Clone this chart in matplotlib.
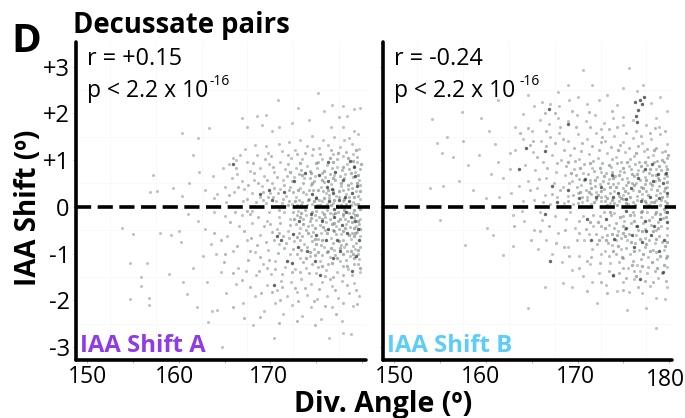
"""Decussate pairs: IAA shift against divergence angle, two panels."""
import numpy as np
import matplotlib
matplotlib.use("Agg")
import matplotlib.pyplot as plt
from matplotlib.transforms import ScaledTranslation

W, H = 685, 418
FONT = "Open Sans"

X_TICKS = [150, 155, 160, 165, 170, 175, 180]
Y_TICKS = [3, 2, 1, 0, -1, -2, -3]
Y_LABELS = ["+3", "+2", "+1", "0", "-1", "-2", "-3"]
GRID_X = [152.5, 157.5, 162.5, 167.5, 172.5, 177.5]
GRID_Y = [2.5, 1.5, 0.5, -0.5, -1.5, -2.5]

# puntos leídos a ojo de la figura (ángulo, shift)
shift_a_light = [
    (175.2,2.44),(170.8,2.29),(179.8,2.12),(176.7,2.18),(173.0,2.12),(166.9,1.90),(168.5,1.95),(169.5,1.97),
    (167.4,1.71),(169.1,1.76),(163.3,1.69),(160.4,1.58),(162.1,1.48),(161.6,1.11),(157.2,0.69),(156.9,0.32),
    (157.6,0.33),(159.4,0.41),(162.9,0.36),(165.9,1.05),(166.2,1.01),(178.0,2.15),(179.2,2.10),(175.9,2.05),
    (177.5,1.92),(178.4,1.95),(174.2,1.87),(172.4,1.80),(171.0,1.70),(170.2,1.62),(176.6,1.72),(177.9,1.70),
    (179.1,1.62),(179.6,1.55),(178.6,1.48),(177.0,1.50),(175.8,1.44),(174.6,1.52),(173.2,1.43),(172.0,1.39),
    (170.9,1.34),(169.5,1.30),(168.3,1.33),(167.2,1.24),(166.7,1.12),(165.5,0.92),(164.8,0.83),(163.7,0.66),
    (162.2,0.74),(161.1,0.52),(160.3,0.24),(163.8,0.18),(165.1,0.42),(164.2,0.28),(166.4,0.71),(167.5,0.95),
    (168.6,1.10),(169.8,1.16),(171.3,1.20),(172.7,1.22),(174.0,1.30),(175.3,1.26),(176.3,1.33),(177.6,1.28),
    (178.9,1.34),(179.7,1.24),(179.0,1.13),(177.9,1.08),(176.9,1.14),(175.7,1.03),(174.6,1.10),(173.5,1.02),
    (172.3,1.04),(171.1,0.97),(169.9,0.92),(168.9,0.84),(167.8,0.77),(166.9,0.55),(165.8,0.62),(166.0,0.32),
    (167.1,0.38),(168.2,0.58),(169.3,0.66),(170.4,0.74),(171.6,0.80),(172.8,0.84),(174.0,0.88),(175.1,0.83),
    (176.2,0.90),(177.3,0.86),(178.4,0.92),(179.5,0.95),(179.3,0.74),(178.2,0.70),(177.0,0.68),(176.0,0.63),
    (174.9,0.66),(173.7,0.61),(172.6,0.64),(171.4,0.58),(170.2,0.52),(169.1,0.44),(168.0,0.29),(167.0,0.12),
    (165.2,0.10),(168.9,0.20),(170.0,0.30),(171.1,0.38),(172.2,0.43),(173.3,0.40),(174.4,0.46),(175.5,0.42),
    (176.6,0.48),(177.7,0.44),(178.8,0.52),(179.7,0.58),(179.4,0.33),(178.3,0.28),(177.2,0.24),(176.1,0.30),
    (175.0,0.22),(173.9,0.27),(172.8,0.20),(171.7,0.24),(170.6,0.13),(169.5,0.09),(171.3,0.08),(172.4,0.06),
    (173.5,0.10),(174.6,0.07),(175.7,0.12),(176.8,0.09),(177.9,0.13),(179.0,0.11),(179.8,0.16),(168.0,-0.09),
    (153.8,-0.45),(155.0,-0.58),(154.7,-1.20),(156.5,-1.20),(155.9,-1.50),(155.9,-1.70),(154.7,-1.97),(156.7,-2.10),
    (156.7,-1.95),(158.9,-1.44),(158.0,-0.55),(159.2,-0.60),(160.0,-0.52),(160.2,-0.75),(160.5,-1.60),(160.9,-1.86),
    (162.0,-2.15),(163.2,-2.46),(163.6,-2.23),(164.2,-2.20),(168.1,-2.53),(170.4,-2.80),(176.4,-2.80),(178.0,-2.70),
    (178.8,-2.72),(164.7,-3.00),(161.0,-0.15),(162.1,-0.30),(162.9,-0.48),(163.5,-0.80),(164.1,-1.02),(162.6,-1.05),
    (161.5,-1.30),(163.1,-1.60),(164.6,-1.40),(165.3,-0.62),(165.9,-0.95),(166.5,-1.30),(165.2,-1.85),(166.2,-1.65),
    (167.0,-2.05),(168.3,-1.90),(169.3,-2.22),(170.5,-2.05),(171.4,-2.30),(172.4,-2.10),(173.5,-2.33),(174.4,-2.15),
    (175.5,-2.40),(176.7,-2.15),(177.8,-2.45),(179.0,-2.12),(179.7,-1.90),(178.6,-1.85),(177.4,-1.95),(176.2,-1.90),
    (175.1,-1.98),(174.0,-1.88),(172.9,-1.82),(171.8,-1.92),(170.7,-1.78),(169.6,-1.68),(168.4,-1.45),(167.3,-1.38),
    (166.6,-0.40),(167.4,-0.72),(168.3,-0.96),(169.2,-1.22),(170.1,-1.44),(171.2,-1.58),(172.3,-1.62),(173.4,-1.55),
    (174.5,-1.66),(175.6,-1.60),(176.7,-1.70),(177.8,-1.58),(179.1,-1.64),(179.8,-1.40),(178.5,-1.33),(177.3,-1.40),
    (176.1,-1.36),(175.0,-1.42),(173.9,-1.30),(172.7,-1.34),(171.6,-1.28),(170.5,-1.16),(169.8,-0.92),(168.9,-0.60),
    (168.0,-0.35),(169.6,-0.30),(170.7,-0.48),(171.0,-0.80),(172.1,-1.02),(173.2,-1.10),(174.3,-1.06),(175.4,-1.15),
    (176.5,-1.08),(177.6,-1.16),(178.7,-1.05),(179.7,-1.12),(179.3,-0.90),(178.1,-0.86),(177.0,-0.92),(175.9,-0.85),
    (174.8,-0.90),(173.7,-0.80),(172.6,-0.74),(171.9,-0.52),(170.9,-0.22),(172.2,-0.25),(173.3,-0.45),(174.4,-0.62),
    (175.5,-0.55),(176.6,-0.66),(177.7,-0.58),(178.8,-0.68),(179.8,-0.62),(179.4,-0.40),(178.3,-0.36),(177.2,-0.42),
    (176.1,-0.33),(175.0,-0.28),(173.9,-0.18),(175.6,-0.12),(176.8,-0.16),(177.9,-0.20),(179.0,-0.14),(179.8,-0.25),
    (174.6,-0.38),(173.0,-0.08),(171.5,-0.10),(169.9,-0.12),(166.9,-0.18),(165.0,-0.20),(163.9,-0.12),(178.1,1.44),
]
shift_a_core = [
    (177.3,1.03),(175.2,0.97),(173.4,0.79),(171.9,0.91),(170.3,0.85),(168.2,0.72),(166.3,0.84),(169.4,1.03),
    (172.9,1.13),(174.7,1.24),(176.6,1.22),(178.3,1.18),(179.5,1.07),(179.1,0.87),(177.8,0.79),(176.7,0.83),
    (175.6,0.72),(174.3,0.77),(173.1,0.71),(171.8,0.67),(170.7,0.63),(169.6,0.57),(168.7,0.51),(167.6,0.46),
    (166.5,0.43),(165.5,0.26),(167.5,0.17),(168.4,0.11),(169.2,0.31),(170.4,0.41),(171.5,0.47),(172.4,0.55),
    (173.6,0.51),(174.8,0.56),(175.9,0.53),(177.1,0.57),(178.1,0.61),(179.0,0.63),(179.8,0.47),(178.9,0.41),
    (177.9,0.36),(176.9,0.37),(175.8,0.33),(174.7,0.36),(173.6,0.31),(172.5,0.31),(171.4,0.17),(170.3,0.22),
    (169.2,0.14),(172.0,0.13),(173.1,0.15),(174.2,0.17),(175.3,0.14),(176.4,0.19),(177.5,0.21),(178.6,0.20),
    (179.6,0.24),(179.3,0.06),(178.3,0.07),(177.3,0.05),(176.2,0.06),(175.1,0.05),(174.0,0.04),(172.9,0.05),
    (174.3,0.62),(176.5,0.71),(178.6,0.81),(175.4,1.13),(173.8,1.16),(171.9,1.11),(170.1,1.08),(168.1,0.93),
    (179.8,0.80),(177.6,0.65),(178.5,0.38),(176.4,0.26),(174.2,0.37),(172.0,0.35),(170.8,0.30),(169.7,0.21),
    (167.8,-0.16),(168.7,-0.22),(169.3,-0.41),(170.2,-0.53),(170.4,-0.70),(169.5,-0.76),(168.6,-0.82),(167.8,-0.95),
    (168.9,-1.08),(169.9,-1.13),(170.8,-0.98),(171.5,-0.88),(171.4,-0.63),(172.1,-0.39),(171.1,-0.34),(172.9,-0.17),
    (173.6,-0.27),(174.3,-0.31),(174.9,-0.17),(175.4,-0.39),(176.0,-0.22),(176.5,-0.27),(177.4,-0.31),(178.2,-0.27),
    (178.7,-0.44),(179.5,-0.53),(179.7,-0.37),(179.2,-0.24),(178.6,-0.13),(177.4,-0.10),(176.2,-0.07),(175.0,-0.09),
    (173.8,-0.07),(172.5,-0.11),(171.0,-0.07),(173.1,-0.55),(173.9,-0.49),(174.7,-0.53),(175.2,-0.68),(176.0,-0.50),
    (176.8,-0.50),(177.5,-0.47),(178.0,-0.72),(178.9,-0.57),(179.4,-0.78),(179.8,-0.86),(179.0,-0.83),(178.4,-0.94),
    (177.7,-0.81),(176.9,-0.78),(176.3,-0.94),(175.5,-0.82),(174.6,-0.74),(174.0,-0.87),(173.2,-0.72),(172.5,-0.91),
    (171.7,-0.77),(172.9,-1.00),(173.6,-1.18),(174.6,-1.23),(175.7,-1.03),(176.3,-1.22),(177.1,-1.04),(177.9,-1.27),
    (178.3,-1.14),(179.1,-1.23),(179.6,-1.00),(178.9,-1.47),(177.9,-1.45),(176.9,-1.50),(176.0,-1.48),(175.2,-1.28),
    (174.2,-1.42),(173.3,-1.40),(172.4,-1.40),(171.3,-1.44),(170.5,-1.33),(169.6,-1.30),(168.8,-1.38),(167.6,-1.14),
    (166.4,-0.83),(165.1,-1.02),(167.1,-0.52),(167.9,-0.67),(170.0,-0.37),(170.9,-0.57),(172.0,-0.66),(172.8,-0.37),
    (173.5,-0.62),(177.2,-0.59),(178.5,-0.30),(179.3,-0.17),(176.5,-0.13),(175.3,-0.21),(174.1,-0.41),(179.6,-1.22),
    (170.2,-1.82),(171.3,-1.72),(172.7,-1.74),(173.8,-1.73),(175.3,-1.75),(176.5,-1.55),(177.1,-1.78),(178.4,-1.68),
    (179.4,-1.78),(178.0,-2.05),(176.0,-2.12),(174.8,-2.02),(173.0,-2.02),(171.1,-1.99),(169.0,-1.85),(167.8,-1.72),
    (166.9,-1.56),(165.9,-1.41),(164.9,-1.18),(163.8,-0.55),(164.6,-0.70),(165.6,-0.33),(167.4,-0.08),(166.1,-0.11),
    (179.5,-2.08),(177.2,-2.30),(174.9,-2.52),(172.9,-2.44),(170.9,-2.49),(168.9,-2.35),(167.1,-2.38),(165.9,-2.15),
]
# franja densa junto a 180 en el panel A
shift_a_edge = [
    (179.9,0.91),(179.4,1.21),(178.5,1.05),(177.4,1.16),(176.5,1.05),(175.9,0.77),(175.0,0.93),(174.5,0.72),
    (173.3,0.93),(172.2,0.74),(176.9,0.95),(178.0,0.86),(179.0,0.98),(179.6,0.69),(178.8,0.72),(177.7,0.52),
    (176.8,0.62),(175.7,0.57),(174.6,0.51),(173.5,0.68),(179.5,0.52),(178.5,0.46),(177.5,0.33),(176.3,0.36),
    (175.2,0.36),(174.1,0.14),(173.0,0.35),(171.9,0.05),(179.8,0.33),(179.1,0.21),(178.1,0.17),(177.0,0.14),
    (175.9,0.18),(174.8,0.13),(172.7,0.12),(178.8,0.04),(177.7,0.04),(176.6,0.04),(175.4,0.03),(173.4,0.04),
    (179.6,0.06),(179.8,-0.05),(179.1,-0.06),(178.1,-0.06),(177.1,-0.13),(175.9,-0.16),(174.6,-0.10),(173.4,-0.14),
    (179.5,-0.17),(178.9,-0.33),(178.0,-0.16),(177.0,-0.35),(175.8,-0.44),(174.9,-0.45),(173.6,-0.36),(172.6,-0.27),
    (179.6,-0.30),(179.2,-0.45),(178.6,-0.60),(177.9,-0.52),(177.0,-0.52),(176.2,-0.57),(175.7,-0.72),(174.9,-0.68),
    (174.1,-0.56),(172.9,-0.64),(179.8,-0.48),(179.1,-0.62),(178.3,-0.80),(177.5,-0.74),(176.6,-0.88),(175.2,-0.96),
    (174.3,-0.96),(173.4,-0.93),(179.6,-0.92),(178.8,-0.94),(178.0,-1.02),(177.3,-1.10),(176.7,-1.20),(175.7,-1.27),
    (174.9,-1.04),(173.9,-1.10),(179.2,-1.10),(178.4,-1.26),(179.8,-1.30),(179.0,-1.00),(177.6,-0.88),(176.2,-0.96),
    (175.0,-0.80),(179.3,-0.57),(178.2,-0.46),(177.6,-0.25),(176.7,-0.37),(175.6,-0.25),(174.4,-0.24),(173.2,-0.22),
]
shift_a_dark = [
    (176.7,0.38),(176.9,0.30),(176.2,0.42),(177.1,0.75),(176.3,0.95),(178.7,0.98),(178.0,0.58),(179.3,0.65),
    (179.5,0.45),(178.2,0.22),(175.0,0.18),(173.8,0.72),(176.3,0.55),(177.5,0.15),(178.9,0.30),(169.9,0.35),
    (165.9,0.92),(170.2,0.15),(174.4,-0.15),(175.6,-0.30),(176.3,-0.48),(177.0,-0.22),(177.8,-0.38),(178.4,-0.55),
    (179.3,-0.30),(179.7,-0.72),(178.8,-0.22),(177.3,-0.70),(176.1,-0.72),(175.0,-0.60),(174.0,-0.95),(172.5,-0.58),
    (173.1,-0.30),(171.2,-0.70),(170.7,-0.62),(172.4,-1.20),(175.4,-1.45),(178.9,-1.38),(179.4,-1.05),(177.6,-0.95),
    (170.4,-1.68),(171.8,-1.15),(173.0,-0.85),(174.9,-1.15),(176.9,-1.10),(177.0,-0.05),(178.3,-0.10),(179.6,-0.48),
    (178.6,0.12),(176.4,0.12),(175.3,0.68),(172.6,0.55),(168.9,0.28),(171.5,0.32),(174.6,0.28),(179.2,0.85),
]
shift_b_light = [
    (170.6,2.93),(175.6,2.97),(176.5,2.47),(177.1,2.60),(175.0,2.55),(167.9,2.46),(168.9,2.60),(171.6,2.60),
    (164.6,2.40),(161.3,2.29),(154.1,1.88),(157.4,2.03),(155.7,1.50),(154.7,1.37),(155.2,1.15),(156.4,1.07),
    (157.5,1.42),(153.9,0.41),(155.3,0.45),(159.5,1.90),(160.3,1.62),(161.0,1.35),(159.2,1.10),(158.0,0.90),
    (157.1,0.55),(158.6,0.35),(160.5,0.70),(161.3,0.95),(161.9,0.62),(162.6,1.15),(163.2,1.72),(164.0,1.98),
    (165.2,2.15),(166.1,2.25),(167.0,2.20),(168.0,2.15),(169.1,2.28),(170.0,2.36),(171.0,2.20),(172.3,2.28),
    (173.2,2.40),(174.3,2.18),(178.0,2.22),(179.0,2.35),(179.7,2.05),(178.5,1.90),(177.5,1.75),(176.0,1.85),
    (175.0,1.75),(173.9,1.90),(172.9,1.80),(171.9,1.96),(170.9,1.84),(169.9,1.96),(168.9,1.84),(167.9,1.90),
    (166.9,1.78),(165.9,1.85),(165.0,1.62),(164.0,1.45),(163.2,1.22),(162.6,0.80),(163.6,0.45),(162.7,0.30),
    (161.4,0.22),(160.0,0.18),(164.3,0.90),(165.1,1.18),(166.0,1.42),(167.0,1.50),(168.0,1.58),(169.0,1.40),
    (170.0,1.55),(171.0,1.45),(172.0,1.58),(173.0,1.42),(174.0,1.52),(175.0,1.38),(176.0,1.48),(177.0,1.36),
    (178.0,1.45),(179.0,1.55),(179.8,1.35),(179.2,1.18),(178.2,1.10),(177.2,1.20),(176.2,1.08),(175.2,1.18),
    (174.2,1.06),(173.2,1.16),(172.2,1.05),(171.2,1.14),(170.2,1.02),(169.2,1.12),(168.2,1.00),(167.2,1.10),
    (166.2,0.95),(165.4,0.78),(164.6,0.55),(165.6,0.40),(166.6,0.62),(167.6,0.74),(168.6,0.68),(169.6,0.82),
    (170.6,0.72),(171.6,0.84),(172.6,0.74),(173.6,0.86),(174.6,0.76),(175.6,0.88),(176.6,0.78),(177.6,0.90),
    (178.6,0.80),(179.6,0.88),(179.4,0.62),(178.4,0.55),(177.4,0.64),(176.4,0.52),(175.4,0.62),(174.4,0.50),
    (173.4,0.60),(172.4,0.48),(171.4,0.58),(170.4,0.46),(169.4,0.55),(168.4,0.42),(167.4,0.50),(166.4,0.26),
    (165.2,0.15),(164.0,0.12),(167.8,0.22),(168.9,0.24),(170.0,0.30),(171.0,0.22),(172.0,0.32),(173.0,0.24),
    (174.0,0.34),(175.0,0.26),(176.0,0.36),(177.0,0.28),(178.0,0.38),(179.0,0.30),(179.8,0.42),(179.5,0.12),
    (178.5,0.15),(177.5,0.08),(176.5,0.14),(175.5,0.07),(174.5,0.13),(173.5,0.08),(172.5,0.12),(171.5,0.06),
    (170.5,0.10),(169.5,0.07),(168.5,0.09),(167.0,0.06),(174.9,1.92),(176.4,1.62),(178.9,1.72),(172.5,1.66),
    (155.0,-0.28),(160.1,-0.45),(160.8,-0.60),(157.7,-0.81),(161.9,-1.03),(162.9,-0.84),(164.6,-2.17),(166.4,-1.71),
    (168.4,-1.63),(169.4,-1.72),(172.1,-2.06),(175.4,-2.20),(177.5,-2.16),(178.5,-2.60),(163.0,-0.18),(164.2,-0.30),
    (165.2,-0.50),(166.1,-0.28),(166.6,-0.72),(167.2,-1.02),(165.7,-0.90),(167.9,-0.55),(168.3,-1.18),(169.0,-0.85),
    (169.4,-1.35),(170.2,-1.05),(170.6,-1.48),(171.4,-1.22),(171.6,-1.62),(172.3,-1.42),(173.1,-1.68),(173.9,-1.48),
    (174.3,-1.80),(175.0,-1.60),(175.6,-1.83),(176.2,-1.55),(177.0,-1.85),(177.9,-1.70),(178.6,-1.95),(179.5,-1.98),
    (179.8,-1.72),(178.8,-1.52),(177.6,-1.42),(176.5,-1.25),(175.5,-1.32),(174.5,-1.18),(173.5,-1.20),(172.6,-1.02),
    (171.6,-0.90),(170.7,-0.72),(169.7,-0.45),(168.7,-0.25),(170.6,-0.20),(171.7,-0.42),(172.7,-0.65),(173.7,-0.82),
    (174.7,-0.90),(175.7,-1.02),(176.7,-0.92),(177.7,-1.08),(178.7,-1.12),(179.7,-1.28),(179.4,-0.92),(178.4,-0.78),
    (177.4,-0.66),(176.4,-0.60),(175.4,-0.72),(174.4,-0.52),(173.4,-0.38),(172.4,-0.20),(174.0,-0.14),(175.1,-0.30),
    (176.1,-0.18),(177.1,-0.34),(178.1,-0.22),(179.1,-0.40),(179.8,-0.60),(178.6,-0.50),(177.6,-0.12),(179.5,-0.10),
    (176.8,-1.38),(175.0,-1.10),(173.0,-0.95),(171.2,-0.58),(169.2,-0.12),(167.5,-0.20),(165.9,-0.10),(163.9,-0.08),
]
shift_b_core = [
    (163.7,1.58),(164.8,1.32),(165.6,1.07),(166.6,1.30),(167.5,1.36),(168.5,1.22),(169.6,1.27),(170.5,1.36),
    (171.6,1.30),(172.5,1.38),(173.6,1.28),(174.6,1.33),(175.6,1.25),(176.6,1.30),(177.6,1.24),(178.5,1.27),
    (179.5,1.20),(179.7,1.04),(178.7,0.99),(177.7,1.07),(176.7,0.97),(175.7,1.03),(174.7,0.96),(173.7,1.02),
    (172.7,0.93),(171.7,0.99),(170.7,0.91),(169.7,0.98),(168.7,0.88),(167.7,0.94),(166.7,0.84),(165.8,0.60),
    (164.8,0.36),(166.2,0.10),(167.2,0.28),(168.1,0.35),(169.1,0.50),(170.1,0.60),(171.1,0.70),(172.1,0.64),
    (173.1,0.72),(174.1,0.65),(175.1,0.74),(176.1,0.66),(177.1,0.76),(178.1,0.69),(179.1,0.78),(179.8,0.66),
    (178.9,0.44),(177.9,0.51),(176.9,0.43),(175.9,0.52),(174.9,0.41),(173.9,0.48),(172.9,0.38),(171.9,0.45),
    (170.9,0.36),(169.9,0.42),(168.9,0.13),(170.0,0.08),(171.0,0.14),(172.0,0.16),(173.0,0.13),(174.0,0.08),
    (175.0,0.16),(176.0,0.10),(177.0,0.17),(178.0,0.10),(179.1,0.15),(179.7,0.23),(178.5,0.26),(177.5,0.34),
    (176.5,0.24),(175.5,0.30),(174.5,0.24),(173.5,0.30),(172.5,0.22),(171.5,0.28),(170.5,0.20),(169.5,0.26),
    (172.8,0.55),(174.8,0.59),(176.8,0.58),(178.8,0.62),(177.3,0.48),(175.3,0.46),(173.3,0.52),(171.3,0.50),
    (174.3,0.94),(176.3,0.92),(178.3,0.96),(177.8,0.72),(175.8,0.80),(173.8,0.74),(171.8,0.76),(169.8,0.68),
    (179.4,0.34),(179.4,0.96),(172.3,1.22),(170.4,1.20),(168.4,1.46),(166.5,1.62),(165.1,1.40),(164.6,1.68),
    (166.4,2.02),(168.1,1.72),(169.8,1.72),(171.4,1.70),(173.4,1.66),(175.3,1.58),(177.9,1.58),(179.5,1.62),
    (173.7,2.05),(171.2,2.04),(169.4,2.05),(167.5,2.02),(178.4,1.68),(176.9,1.52),(174.3,1.70),(172.7,1.50),
    (163.1,-0.40),(164.9,-0.72),(165.9,-0.52),(166.9,-0.42),(167.6,-0.78),(168.6,-0.50),(169.1,-1.05),(169.9,-0.72),
    (170.1,-0.30),(170.9,-0.48),(171.5,-1.08),(172.1,-0.80),(172.5,-0.42),(173.2,-0.60),(173.6,-0.18),(174.2,-0.34),
    (174.7,-0.66),(175.2,-0.48),(175.8,-0.34),(176.4,-0.40),(176.9,-0.22),(177.3,-0.48),(178.0,-0.38),(178.4,-0.16),
    (178.9,-0.62),(179.3,-0.24),(179.7,-0.46),(179.2,-0.75),(178.2,-0.92),(177.3,-0.86),(176.3,-0.78),(175.3,-0.88),
    (174.2,-0.72),(173.3,-0.78),(172.4,-1.20),(173.4,-1.06),(174.2,-1.02),(175.0,-1.30),(176.0,-1.16),(176.9,-1.12),
    (177.7,-1.28),(178.5,-0.96),(179.6,-1.10),(179.2,-1.42),(178.4,-1.38),(177.4,-1.58),(176.1,-1.38),(175.3,-1.52),
    (174.5,-1.42),(173.4,-1.38),(172.6,-1.60),(171.0,-1.15),(170.2,-1.30),(179.6,-1.58),(178.2,-1.62),(176.6,-1.72),
    (174.9,-1.78),(173.2,-1.85),(171.0,-1.80),(177.0,-0.08),(176.0,-0.12),(175.0,-0.20),(172.9,-0.12),(171.7,-0.18),
    (178.8,-0.32),(177.8,-0.70),(176.6,-0.50),(175.6,-0.58),(174.0,-0.45),(172.0,-0.58),(170.2,-0.55),(168.5,-0.85),
]
# zona densa del panel B
shift_b_edge = [
    (179.9,1.12),(179.2,1.01),(178.3,1.21),(177.4,0.97),(176.4,1.16),(175.4,0.95),(174.4,1.22),(173.4,0.90),
    (172.4,0.83),(171.4,0.93),(170.3,0.83),(168.9,0.96),(179.7,0.80),(178.9,0.87),(177.9,0.81),(176.9,0.88),
    (175.9,0.71),(174.9,0.84),(173.9,0.62),(172.9,0.66),(171.9,0.57),(170.7,0.57),(169.3,0.72),(179.5,0.70),
    (178.5,0.68),(177.5,0.57),(176.5,0.70),(175.5,0.53),(174.5,0.68),(173.5,0.43),(172.5,0.34),(171.5,0.40),
    (170.3,0.31),(179.8,0.53),(178.9,0.57),(178.1,0.47),(177.1,0.40),(176.2,0.47),(175.2,0.34),(174.2,0.42),
    (173.2,0.18),(172.2,0.26),(171.2,0.31),(179.5,0.40),(178.7,0.36),(177.7,0.25),(176.7,0.34),(175.7,0.20),
    (174.7,0.19),(173.7,0.14),(171.8,0.11),(179.2,0.22),(178.3,0.11),(177.3,0.13),(176.3,0.05),(175.3,0.09),
    (174.3,0.05),(179.8,0.08),(179.0,0.05),(177.8,0.04),(173.2,0.04),(179.4,-0.05),(178.6,-0.10),(177.8,-0.28),
    (176.9,-0.12),(175.7,-0.18),(174.6,-0.22),(173.5,-0.10),(172.2,-0.32),(179.0,-0.15),(178.2,-0.52),(177.0,-0.52),
    (176.1,-0.30),(175.0,-0.40),(174.3,-0.60),(173.0,-0.45),(171.4,-0.32),(179.6,-0.22),(178.8,-0.46),(177.5,-0.80),
    (176.8,-0.68),(175.8,-0.76),(174.9,-0.55),(173.8,-0.58),(172.3,-0.72),(179.8,-0.76),(178.6,-0.68),(177.9,-0.94),
    (177.1,-1.00),(176.1,-0.94),(175.2,-0.62),(174.4,-0.83),(173.1,-0.70),(179.5,-0.84),(179.0,-1.05),(178.1,-1.18),
    (177.0,-1.26),(175.9,-1.25),(174.8,-1.08),(173.9,-0.95),(179.8,-1.05),(179.4,-1.25),(178.7,-1.30),(176.4,-1.48),
]
shift_b_dark = [
    (176.8,2.28),(177.0,2.20),(176.3,2.25),(176.6,2.08),(176.4,1.95),(176.5,1.82),(177.2,2.35),
    (166.9,2.10),(168.9,1.78),(164.4,1.25),(166.4,1.20),(163.6,0.80),(167.2,0.45),(169.0,0.35),(170.8,0.60),
    (172.6,0.42),(173.7,0.68),(174.4,0.30),(175.8,0.40),(176.6,0.62),(177.4,0.80),(178.2,0.55),(178.8,0.70),
    (179.3,0.50),(179.7,0.30),(178.9,0.18),(177.9,0.22),(176.9,0.12),(175.3,0.16),(173.9,0.20),(179.6,0.72),
    (178.1,0.92),(172.0,0.20),(170.2,0.18),(167.8,0.10),
    (179.7,-0.10),(179.0,-0.25),(178.3,-0.40),(177.4,-0.30),(176.5,-0.42),(175.9,-0.60),(177.0,-0.75),(178.0,-0.60),
    (179.4,-0.70),(179.7,-0.32),(178.9,-0.95),(176.2,-0.85),(175.3,-0.45),(174.0,-0.68),(173.1,-0.25),(171.5,-0.70),
    (171.0,-0.25),(166.4,-0.15),(167.0,-1.15),(173.9,-1.45),(176.8,-1.55),(179.3,-1.40),(175.3,-0.08),(177.5,-0.52),
]

# corrimiento de las etiquetas del eje x respecto de su tick (px)
LABEL_SHIFT_A = [0, 0, -4, 0, -2, 0, 0]
LABEL_SHIFT_B = [0, 0, -5, 0, -2, 0, -4]


def px_x(px):
    return px / W


def px_y(py):
    return 1 - py / H


def draw_panel(fig, left, right, tick150, per_deg, light, core, edge, dark):
    ax = fig.add_axes([px_x(left), px_y(360), (right - left) / W, 318 / H])
    ax.set_xlim(150 + (left - tick150) / per_deg, 150 + (right - tick150) / per_deg)
    ax.set_ylim(-3.28, 3.53)

    for g in GRID_X:
        ax.axvline(g, color="#f8f8f8", lw=0.6, zorder=0)
    for g in GRID_Y:
        ax.axhline(g, color="#f8f8f8", lw=0.6, zorder=0)

    for pts, size, col, alpha, z in [(light, 5, "#2c3d38", 0.3, 2), (core, 5, "#2c3d38", 0.35, 2),
                                     (edge, 6, "#2c3d38", 0.4, 2), (dark, 6, "#0f1715", 0.65, 3)]:
        pts = np.array(pts)
        ax.scatter(pts[:, 0], pts[:, 1], s=size, color=col, alpha=alpha, linewidths=0, zorder=z)

    ax.plot([ax.get_xlim()[0], ax.get_xlim()[1] + 0.4], [0, 0], color="black", lw=2.6,
            dashes=(4.2, 1.8), clip_on=False, zorder=4)

    for side in ["top", "right"]:
        ax.spines[side].set_visible(False)
    for side in ["left", "bottom"]:
        ax.spines[side].set_linewidth(2.6)
        ax.spines[side].set_capstyle("round")
    ax.set_xticks(X_TICKS)
    ax.set_yticks(Y_TICKS)
    ax.tick_params(length=2.5, width=0.5, color="#999999")
    return ax


def shift_labels(ax, shifts, last_dy=0):
    for i, (lab, dx) in enumerate(zip(ax.get_xticklabels(), shifts)):
        dy = last_dy if i == len(shifts) - 1 else 0
        lab.set_transform(lab.get_transform() + ScaledTranslation(dx / 100, dy / 100, ax.figure.dpi_scale_trans))


fig = plt.figure(figsize=(W / 100, H / 100), dpi=100)

ax_a = draw_panel(fig, 76, 366, 87.3, 9.15, shift_a_light, shift_a_core, shift_a_edge, shift_a_dark)
ax_b = draw_panel(fig, 382.7, 672, 394.3, 9.167, shift_b_light, shift_b_core, shift_b_edge, shift_b_dark)

ax_a.set_yticklabels(Y_LABELS, fontsize=17, family=FONT)
ax_a.set_xticklabels(["150", "", "160", "", "170", "", ""], fontsize=16.5, family=FONT)
ax_a.tick_params(axis="x", pad=1)
ax_a.tick_params(axis="y", pad=2)
ax_b.set_yticklabels([])
ax_b.set_xticklabels(["150", "", "160", "", "170", "", "180"], fontsize=16.5, family=FONT)
ax_b.tick_params(axis="x", pad=1)
shift_labels(ax_a, LABEL_SHIFT_A)
shift_labels(ax_b, LABEL_SHIFT_B, last_dy=-3)

fig.text(px_x(11), px_y(52), "D", fontsize=29, fontweight="bold", family=FONT, va="baseline")
fig.text(px_x(73), px_y(33), "Decussate pairs", fontsize=19.8, fontweight="bold", family=FONT, va="baseline")
fig.text(px_x(29), px_y(208), "IAA Shift (º)", fontsize=20, fontweight="bold", family=FONT,
         rotation=90, ha="center", va="center")
fig.text(px_x(383), px_y(412), "Div. Angle (º)", fontsize=20.5, fontweight="bold", family=FONT,
         ha="center", va="baseline")

fig.text(px_x(87), px_y(65), "r = +0.15", fontsize=16.8, family=FONT)
fig.text(px_x(87), px_y(97), "p < 2.2 x 10", fontsize=16.5, family=FONT)
fig.text(px_x(210), px_y(85), "-16", fontsize=10, family=FONT)
fig.text(px_x(394), px_y(65), "r = -0.24", fontsize=16.8, family=FONT)
fig.text(px_x(394), px_y(97), "p < 2.2 x 10", fontsize=16.5, family=FONT)
fig.text(px_x(519), px_y(85), "-16", fontsize=10, family=FONT)

fig.text(px_x(80), px_y(352), "IAA Shift A", fontsize=17.2, fontweight="bold", color="#8f3ce6", family=FONT)
fig.text(px_x(387), px_y(352), "IAA Shift B", fontsize=17.2, fontweight="bold", color="#5ccdf8", family=FONT)

fig.savefig("out.png", dpi=100)
